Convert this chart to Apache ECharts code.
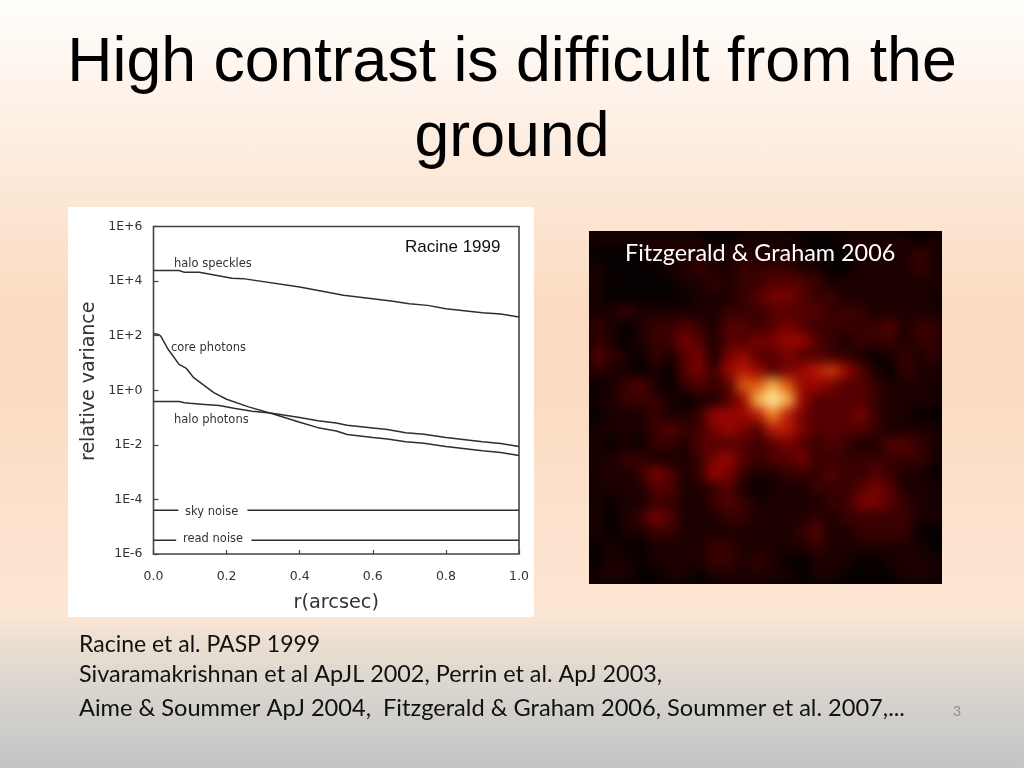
<!DOCTYPE html>
<html>
<head>
<meta charset="utf-8">
<script src="https://cdn.jsdelivr.net/npm/echarts@6/dist/echarts.min.js"></script>
<style>
html,body{margin:0;padding:0;width:1024px;height:768px;overflow:hidden;
background:linear-gradient(to bottom,#fffefc 0px,#fdeee2 130px,#fbdcc2 300px,#fbdcc3 400px,#fde5d2 590px,#fbe5d4 618px,#ecdfd2 640px,#dcd6cf 682px,#cfcecb 722px,#c3c5c5 768px);}
#main{position:absolute;left:0;top:0;width:1024px;height:768px;z-index:1;}
#frame{position:absolute;left:589px;top:231px;width:353px;height:353px;overflow:hidden;background:#000;z-index:0;}
#heat{position:absolute;left:0;top:0;width:353px;height:353px;filter:blur(6px);}
</style>
</head>
<body>
<div id="frame"><div id="heat"></div></div>
<div id="main"></div>
<script>
// Variance curves: r (arcsec) and log10 of relative variance
const speckleR = [0,.07,.085,.125,.215,.245,.4,.52,.65,.7,.75,.8,.9,.95,1];
const speckleE = [4.39,4.39,4.32,4.32,4.10,4.09,3.78,3.48,3.27,3.17,3.11,2.99,2.84,2.79,2.68];
const coreR = [0,.012,.02,.04,.07,.09,.11,.165,.2,.26,.33,.4,.45,.5,.53,.6,.64,.69,.74,.8,.9,.95,1];
const coreE = [2.07,2.05,1.98,1.5,.95,.8,.46,-.09,-.33,-.61,-.88,-1.17,-1.37,-1.49,-1.62,-1.73,-1.79,-1.89,-1.94,-2.06,-2.22,-2.28,-2.39];
const photonR = [0,.07,.085,.1,.14,.18,.22,.27,.32,.4,.45,.5,.53,.6,.64,.69,.74,.8,.9,.95,1];
const photonE = [-.41,-.41,-.46,-.48,-.52,-.56,-.66,-.77,-.83,-1.0,-1.12,-1.2,-1.28,-1.38,-1.44,-1.56,-1.61,-1.73,-1.89,-1.95,-2.06];
const skyR = [0,.068,.16,.257,1];
const skyE = [-4.4,-4.4,null,-4.4,-4.4];
const readR = [0,.062,.16,.268,1];
const readE = [-5.5,-5.5,null,-5.5,-5.5];

// Speckle image brightness, coarse cells, top row first
const r00=[1,1,1,1,1,1,1,1,0,0,1,1,1,1,0,0,0,1,1,1,1,1,0,1];
const r01=[0,0,0,0,1,1,1,1,1,1,1,1,1,1,1,0,0,0,1,1,1,1,2,1];
const r02=[1,0,0,0,0,1,1,2,1,1,2,2,2,2,1,1,0,0,1,1,1,1,2,1];
const r03=[1,0,0,0,0,0,1,1,2,1,2,2,3,3,3,2,1,1,1,1,1,1,1,1];
const r04=[1,0,0,0,0,0,0,1,1,1,2,3,4,4,3,2,2,1,1,1,1,1,1,1];
const r05=[1,1,2,1,1,1,1,1,1,2,2,2,3,3,3,3,2,2,2,1,1,1,1,1];
const r06=[2,1,0,1,2,2,3,2,1,3,3,2,3,4,3,2,2,2,2,2,3,1,2,2];
const r07=[2,1,0,1,2,2,4,3,1,3,3,4,4,5,5,3,2,1,2,2,2,1,2,2];
const r08=[3,2,1,0,2,1,3,4,1,4,5,3,3,4,3,3,2,2,1,0,1,2,1,2];
const r09=[2,1,1,0,1,0,3,4,2,5,6,5,3,4,5,6,7,5,3,1,0,2,1,1];
const r10=[0,1,2,3,1,0,2,3,2,3,8,8,12,8,5,5,4,3,3,2,1,1,1,1];
const r11=[1,1,2,2,2,1,0,1,1,3,5,12,16,12,5,3,3,3,3,2,1,1,1,1];
const r12=[0,1,1,1,2,1,1,2,5,5,5,6,10,6,4,3,3,3,4,2,1,1,0,0];
const r13=[1,1,1,1,2,3,2,2,4,5,4,3,6,6,4,3,3,3,3,2,1,1,1,1];
const r14=[1,0,1,0,2,2,1,3,3,3,3,2,3,4,3,2,3,2,1,1,3,3,2,1];
const r15=[1,1,2,2,1,1,1,2,4,5,3,2,3,3,4,2,2,2,2,2,2,2,2,1];
const r16=[1,1,1,2,4,3,1,2,5,4,2,1,1,2,2,2,3,2,2,3,2,1,1,0];
const r17=[1,1,1,1,3,3,1,1,2,3,1,0,1,1,1,2,2,2,3,4,3,1,1,1];
const r18=[1,0,1,1,2,2,1,1,2,3,2,1,1,1,1,1,2,2,4,4,3,2,1,1];
const r19=[1,0,1,2,4,3,1,1,1,2,2,1,1,1,1,2,1,2,2,2,2,2,1,1];
const r20=[1,0,1,1,2,2,1,1,1,1,1,1,1,1,2,3,1,1,2,2,2,2,0,0];
const r21=[0,1,0,0,1,1,1,1,2,2,1,1,1,1,1,2,1,1,1,1,1,1,1,0];
const r22=[0,1,1,0,1,1,1,1,2,2,1,2,1,0,0,1,1,1,0,0,1,1,1,1];
const r23=[1,1,1,0,0,1,1,0,1,1,1,1,1,1,0,1,1,0,0,0,0,1,1,1];
const heatRows=[r00,r01,r02,r03,r04,r05,r06,r07,r08,r09,r10,r11,r12,r13,r14,r15,r16,r17,r18,r19,r20,r21,r22,r23];

const pts=(xs,es)=>xs.map((x,i)=>[x,es[i]===null?null:Math.pow(10,es[i])]);
const lineSeries=(name,xs,es)=>({name,type:'line',data:pts(xs,es),showSymbol:false,symbol:'none',smooth:false,connectNulls:false,silent:true,
  lineStyle:{color:'#2e2e2e',width:1.5},clip:true,z:3});

const plotFont='"Liberation Sans",Arial,sans-serif';
const tickFont='"DejaVu Sans",sans-serif';
const slideFont='Lato,"Open Sans",sans-serif';
const mk=(family,text,left,top,size,color)=>({text,left,top,padding:0,textStyle:{fontFamily:family,fontSize:size,fontWeight:'normal',color}});
const head=(text,top)=>({text,left:512,top,padding:0,textAlign:'center',textStyle:{fontFamily:plotFont,fontSize:62.6,fontWeight:'normal',color:'#000'}});

const main=echarts.init(document.getElementById('main'),null,{renderer:'canvas'});
main.setOption({
  animation:false,
  backgroundColor:'transparent',
  graphic:[{type:'rect',z:-10,silent:true,shape:{x:68,y:207,width:466,height:410},style:{fill:'#fff'}}],
  title:[
    head('High contrast is difficult from the',32),
    head('ground',107),
    mk(plotFont,'Racine 1999',405,239,17,'#111'),
    mk(tickFont,'halo speckles',174,258.5,11.5,'#333'),
    mk(tickFont,'core photons',171,342.5,11.5,'#333'),
    mk(tickFont,'halo photons',174,414.5,11.5,'#333'),
    mk(tickFont,'sky noise',185,506.5,11.5,'#333'),
    mk(tickFont,'read noise',183,533.5,11.5,'#333'),
    mk(slideFont,'Fitzgerald & Graham 2006',625,242,23.4,'#fff'),
    mk(slideFont,'Racine et al. PASP 1999',79,633,23,'#111'),
    mk(slideFont,'Sivaramakrishnan et al ApJL 2002, Perrin et al. ApJ 2003,',79,663,23.4,'#111'),
    mk(slideFont,'Aime & Soummer ApJ 2004,  Fitzgerald & Graham 2006, Soummer et al. 2007,...',79,696,23.6,'#111'),
    mk(slideFont,'3',953,704,14,'#8f8f8f')
  ],
  grid:{left:153.5,top:226.5,width:365.5,height:327.5,show:true,borderColor:'#444',borderWidth:1.6,backgroundColor:'transparent'},
  xAxis:{type:'value',min:0,max:1,interval:.2,name:'r(arcsec)',nameLocation:'middle',nameGap:39,
    nameTextStyle:{fontFamily:tickFont,fontSize:19.3,color:'#333'},
    axisLine:{show:false},splitLine:{show:false},
    axisTick:{inside:true,length:4,lineStyle:{color:'#444',width:1.2}},
    axisLabel:{fontFamily:tickFont,fontSize:12.5,color:'#333',margin:16,formatter:v=>v.toFixed(1)}},
  yAxis:{type:'log',logBase:10,min:1e-6,max:1e6,interval:2,name:'relative variance',nameLocation:'middle',nameGap:55,
    nameTextStyle:{fontFamily:tickFont,fontSize:19,color:'#333',padding:[0,0,0,18]},
    axisLine:{show:false},splitLine:{show:false},minorTick:{show:false},
    axisTick:{inside:true,length:5,lineStyle:{color:'#444',width:1.2}},
    axisLabel:{fontFamily:tickFont,fontSize:12.5,color:'#333',margin:11,formatter:v=>{const e=Math.round(Math.log10(v));return '1E'+(e<0?'-':'+')+Math.abs(e);}}},
  series:[
    lineSeries('halo speckles',speckleR,speckleE),
    lineSeries('core photons',coreR,coreE),
    lineSeries('halo photons',photonR,photonE),
    lineSeries('sky noise',skyR,skyE),
    lineSeries('read noise',readR,readE)
  ]
});

const heatData=[];
heatRows.forEach((row,j)=>row.forEach((v,i)=>heatData.push([i,j,v])));
const cells=Array.from({length:24},(_,i)=>i);
const heat=echarts.init(document.getElementById('heat'));
heat.setOption({
  animation:false,
  backgroundColor:'#000',
  grid:{left:0,right:0,top:0,bottom:0},
  xAxis:{type:'category',data:cells,show:false},
  yAxis:{type:'category',data:cells,inverse:true,show:false},
  visualMap:{show:false,min:0,max:16,dimension:2,
    inRange:{color:['#060000','#1c0000','#380000','#540000','#780200','#980600','#b81a06','#cc3a0a','#dc5a10','#e87018','#f08a28','#f6a038','#fab84c','#fcc860','#ffd478','#ffe090','#ffeaa8']}},
  series:[{type:'heatmap',data:heatData,silent:true,progressive:0,itemStyle:{borderWidth:0},emphasis:{disabled:true}}]
});
</script>
</body>
</html>
